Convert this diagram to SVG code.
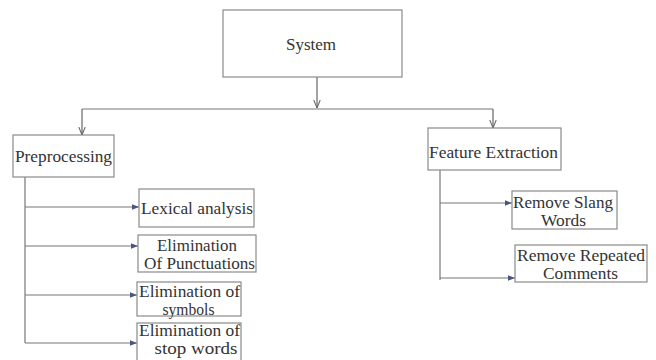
<svg xmlns="http://www.w3.org/2000/svg" width="656" height="360" viewBox="0 0 656 360">
<style>
.box{fill:#fff;stroke:#8a8a8a;stroke-width:1.2}
.t{font-family:'Liberation Serif','DejaVu Serif','Times New Roman',serif;font-size:17px;fill:#333}
.c{fill:none;stroke:#777;stroke-width:1.2}
.a{fill:none;stroke:#666;stroke-width:1.2}
</style>
<defs>
<marker id="down" viewBox="0 0 10 10" refX="10" refY="5" markerWidth="8" markerHeight="8" orient="auto" markerUnits="userSpaceOnUse">
<path d="M0,1 L10,5 L0,9" fill="none" stroke="#666" stroke-width="1.3"/>
</marker>
<marker id="side" viewBox="0 0 10 10" refX="10" refY="5" markerWidth="7" markerHeight="7" orient="auto" markerUnits="userSpaceOnUse">
<path d="M0,1 L10,5 L0,9 Z" fill="#4a5580"/>
</marker>
</defs>
<g id="connectors">
<line class="a" x1="317" y1="77" x2="317" y2="108" marker-end="url(#down)"/>
<polyline class="c" points="82,109 493,109"/>
<line class="a" x1="82" y1="109" x2="82" y2="135" marker-end="url(#down)"/>
<line class="a" x1="493" y1="109" x2="493" y2="128" marker-end="url(#down)"/>
<polyline class="c" points="25,177 25,343"/>
<line class="c" x1="25" y1="207" x2="139" y2="207" marker-end="url(#side)"/>
<line class="c" x1="25" y1="246" x2="138" y2="246" marker-end="url(#side)"/>
<line class="c" x1="25" y1="295" x2="137" y2="295" marker-end="url(#side)"/>
<line class="c" x1="25" y1="343" x2="137" y2="343" marker-end="url(#side)"/>
<polyline class="c" points="440,170 440,280"/>
<line class="c" x1="440" y1="203" x2="512" y2="203" marker-end="url(#side)"/>
<line class="c" x1="440" y1="278" x2="515" y2="278" marker-end="url(#side)"/>
</g>
<g id="system">
<rect class="box" x="223" y="10" width="179" height="67"/>
<text class="t" x="311" y="50" text-anchor="middle" font-size="15">System</text>
</g>
<g id="preprocessing">
<rect class="box" x="13" y="135" width="101" height="42"/>
<text class="t" x="15" y="162" textLength="97" lengthAdjust="spacingAndGlyphs">Preprocessing</text>
</g>
<g id="feature-extraction">
<rect class="box" x="428" y="128" width="133" height="42"/>
<text class="t" x="429" y="158" textLength="129" lengthAdjust="spacingAndGlyphs">Feature Extraction</text>
</g>
<g id="lexical-analysis">
<rect class="box" x="139" y="189" width="115" height="38"/>
<text class="t" x="141" y="214" textLength="112" lengthAdjust="spacingAndGlyphs">Lexical analysis</text>
</g>
<g id="elim-punct">
<rect class="box" x="138" y="235" width="118" height="37"/>
<text class="t" x="197" y="251" text-anchor="middle" textLength="80" lengthAdjust="spacingAndGlyphs">Elimination</text>
<text class="t" x="144" y="269" textLength="111" lengthAdjust="spacingAndGlyphs">Of Punctuations</text>
</g>
<g id="elim-symbols">
<rect class="box" x="137" y="282" width="104" height="34"/>
<text class="t" x="139" y="297" textLength="101" lengthAdjust="spacingAndGlyphs">Elimination of</text>
<text class="t" x="188.5" y="315" text-anchor="middle" textLength="52" lengthAdjust="spacingAndGlyphs">symbols</text>
</g>
<g id="elim-stop">
<rect class="box" x="137" y="323" width="104" height="40"/>
<text class="t" x="139" y="336" textLength="101" lengthAdjust="spacingAndGlyphs">Elimination of</text>
<text class="t" x="196" y="354" text-anchor="middle" textLength="83" lengthAdjust="spacingAndGlyphs">stop words</text>
</g>
<g id="remove-slang">
<rect class="box" x="512" y="191" width="105" height="38"/>
<text class="t" x="513" y="208" textLength="100" lengthAdjust="spacingAndGlyphs">Remove Slang</text>
<text class="t" x="563.5" y="226" text-anchor="middle" textLength="45" lengthAdjust="spacingAndGlyphs">Words</text>
</g>
<g id="remove-repeated">
<rect class="box" x="515" y="245" width="132" height="37"/>
<text class="t" x="517" y="261" textLength="128" lengthAdjust="spacingAndGlyphs">Remove Repeated</text>
<text class="t" x="580.5" y="279" text-anchor="middle" textLength="75" lengthAdjust="spacingAndGlyphs">Comments</text>
</g>
</svg>
